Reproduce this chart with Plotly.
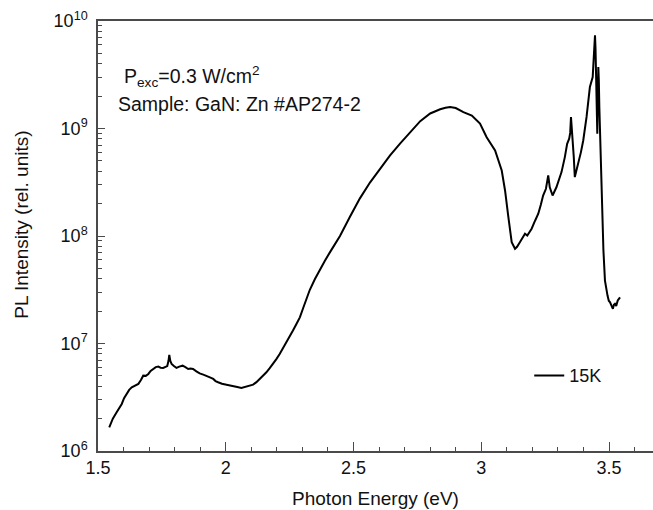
import plotly.graph_objects as go

# Photoluminescence spectrum of GaN:Zn at 15 K
energy_ev = [
    1.544, 1.558, 1.573, 1.583, 1.593, 1.602, 1.612, 1.622, 1.632, 1.645,
    1.658, 1.668, 1.677, 1.687, 1.697, 1.706, 1.716, 1.726, 1.736, 1.745,
    1.755, 1.764, 1.771, 1.776, 1.779, 1.783, 1.788, 1.797, 1.807, 1.818,
    1.831, 1.842, 1.853, 1.862, 1.872, 1.885, 1.898, 1.912, 1.925, 1.938,
    1.951, 1.960, 1.970, 1.985, 2.003, 2.015, 2.029, 2.045, 2.061, 2.075,
    2.088, 2.098, 2.107, 2.120, 2.133, 2.146, 2.159, 2.172, 2.185, 2.198,
    2.211, 2.224, 2.237, 2.250, 2.263, 2.276, 2.290, 2.303, 2.316, 2.329,
    2.349, 2.369, 2.388, 2.408, 2.447, 2.486, 2.525, 2.565, 2.604, 2.643,
    2.682, 2.721, 2.761, 2.800, 2.820, 2.839, 2.860, 2.878, 2.900, 2.930,
    2.963, 2.995, 3.021, 3.054, 3.080, 3.093, 3.106, 3.119, 3.132, 3.140,
    3.151, 3.162, 3.171, 3.180, 3.188, 3.197, 3.210, 3.223, 3.233, 3.242,
    3.253, 3.258, 3.262, 3.268, 3.279, 3.294, 3.314, 3.327, 3.336, 3.344,
    3.348, 3.351, 3.354, 3.357, 3.362, 3.366, 3.372, 3.379, 3.390, 3.399,
    3.412, 3.425, 3.432, 3.436, 3.441, 3.445, 3.447, 3.449, 3.451, 3.454,
    3.456, 3.458, 3.460, 3.462, 3.467, 3.471, 3.478, 3.484, 3.490, 3.494,
    3.499, 3.504, 3.510, 3.515, 3.519, 3.523, 3.528, 3.534, 3.543,
]

pl_intensity = [
    1.66e6, 2.00e6, 2.29e6, 2.50e6, 2.74e6, 3.10e6, 3.40e6, 3.70e6, 3.91e6, 4.07e6,
    4.21e6, 4.57e6, 5.02e6, 5.00e6, 5.21e6, 5.56e6, 5.79e6, 6.03e6, 6.10e6, 5.96e6,
    5.93e6, 6.03e6, 6.17e6, 6.90e6, 7.83e6, 6.90e6, 6.46e6, 6.17e6, 5.93e6, 6.10e6,
    6.22e6, 6.03e6, 5.79e6, 5.86e6, 5.79e6, 5.50e6, 5.27e6, 5.13e6, 5.02e6, 4.84e6,
    4.68e6, 4.47e6, 4.36e6, 4.22e6, 4.14e6, 4.07e6, 3.97e6, 3.94e6, 3.86e6, 3.96e6,
    4.06e6, 4.09e6, 4.14e6, 4.37e6, 4.68e6, 5.01e6, 5.40e6, 5.89e6, 6.46e6, 7.16e6,
    8.00e6, 9.02e6, 1.03e7, 1.16e7, 1.32e7, 1.51e7, 1.75e7, 2.14e7, 2.63e7, 3.16e7,
    3.98e7, 4.90e7, 5.89e7, 7.08e7, 1.00e8, 1.51e8, 2.24e8, 3.16e8, 4.27e8, 5.62e8,
    7.24e8, 9.12e8, 1.17e9, 1.38e9, 1.45e9, 1.51e9, 1.56e9, 1.585e9, 1.55e9, 1.42e9,
    1.32e9, 1.11e9, 8.30e8, 6.25e8, 4.07e8, 2.65e8, 1.50e8, 8.75e7, 7.60e7, 7.94e7,
    8.75e7, 9.55e7, 1.05e8, 1.01e8, 1.07e8, 1.17e8, 1.38e8, 1.61e8, 1.95e8, 2.38e8,
    2.75e8, 3.16e8, 3.66e8, 2.84e8, 2.38e8, 2.84e8, 3.93e8, 5.42e8, 7.21e8, 8.04e8,
    9.10e8, 1.28e9, 1.05e9, 8.95e8, 5.42e8, 3.53e8, 3.98e8, 4.70e8, 6.03e8, 7.74e8,
    1.28e9, 2.43e9, 2.81e9, 3.01e9, 4.97e9, 7.36e9, 5.60e9, 3.73e9, 1.47e9, 8.95e8,
    2.00e9, 3.73e9, 2.80e9, 1.58e9, 5.60e8, 2.14e8, 7.33e7, 3.85e7, 3.00e7, 2.79e7,
    2.50e7, 2.42e7, 2.24e7, 2.10e7, 2.29e7, 2.34e7, 2.24e7, 2.51e7, 2.69e7,
]

series_name = "15K"

x_tick_vals = [1.5, 2.0, 2.5, 3.0, 3.5]
x_tick_text = ["1.5", "2", "2.5", "3", "3.5"]
y_tick_vals = [1e6, 1e7, 1e8, 1e9, 1e10]
y_tick_text = ["10<sup>6</sup>", "10<sup>7</sup>", "10<sup>8</sup>",
               "10<sup>9</sup>", "10<sup>10</sup>"]

FONT = "Arial, Liberation Sans, sans-serif"
AXIS_COLOR = "#4a4a4a"

# minor ticks at 2..9 of every decade
y_minor_vals = [m * 10 ** e for e in range(6, 10) for m in range(2, 10)]

fig = go.Figure()
fig.add_trace(go.Scatter(
    x=energy_ev, y=pl_intensity, mode="lines", name=series_name,
    line=dict(color="black", width=2),
))

fig.update_layout(
    width=653, height=510,
    margin=dict(l=98, r=0, t=21, b=59),
    paper_bgcolor="white", plot_bgcolor="white",
    font=dict(family=FONT, size=18, color="#111111"),
    showlegend=True,
    legend=dict(x=0.777, y=0.175, xanchor="left", yanchor="middle",
                bgcolor="rgba(0,0,0,0)", font=dict(size=18)),
    xaxis=dict(
        range=[1.5, 3.672], tickvals=x_tick_vals, ticktext=x_tick_text,
        ticks="inside", ticklen=9, tickwidth=1, tickcolor=AXIS_COLOR,
        minor=dict(dtick=0.1, ticks="inside", ticklen=4, tickcolor=AXIS_COLOR,
                   showgrid=False),
        showline=True, linecolor=AXIS_COLOR, linewidth=1.5, mirror=True,
        showgrid=False, zeroline=False,
        title=dict(text="Photon Energy (eV)", font=dict(size=19), standoff=14),
        automargin=False,
    ),
    yaxis=dict(
        type="log", range=[6, 10], tickvals=y_tick_vals, ticktext=y_tick_text,
        ticks="inside", ticklen=7, tickwidth=1, tickcolor=AXIS_COLOR,
        ticklabelstandoff=5,
        minor=dict(tickvals=y_minor_vals, ticks="inside", ticklen=4,
                   tickcolor=AXIS_COLOR, showgrid=False),
        showline=True, linecolor=AXIS_COLOR, linewidth=1.5, mirror=False,
        showgrid=False, zeroline=False,
        automargin=False,
    ),
    annotations=[
        dict(text="PL Intensity (rel. units)", xref="paper", yref="paper",
             x=-0.137, y=0.526, xanchor="center", yanchor="middle",
             textangle=-90, showarrow=False, font=dict(size=19)),
        dict(text="P<sub>exc</sub>=0.3 W/cm<sup>2</sup>", xref="paper",
             yref="paper", x=0.043, y=0.872, xanchor="left", yanchor="middle",
             showarrow=False, font=dict(size=19.5)),
        dict(text="Sample: GaN: Zn #AP274-2", xref="paper", yref="paper",
             x=0.033, y=0.808, xanchor="left", yanchor="middle",
             showarrow=False, font=dict(size=19.5)),
    ],
)

fig.write_html("out.html")
